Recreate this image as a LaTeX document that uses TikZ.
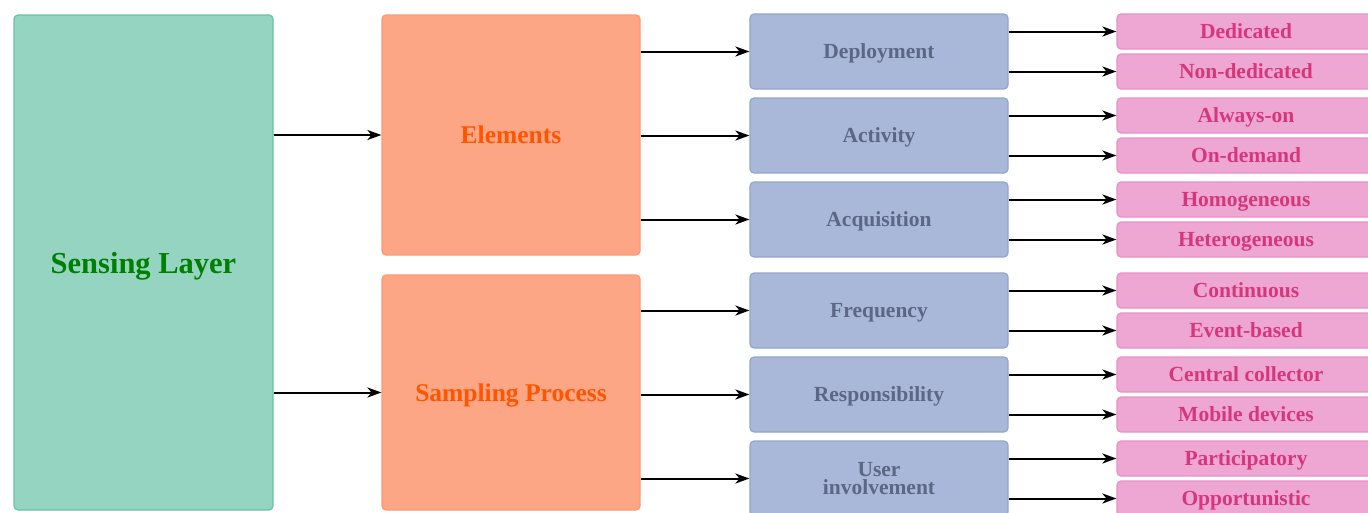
\documentclass[tikz,border=0pt]{standalone}
\usepackage{fontspec}
\setmainfont{Liberation Serif}
\usetikzlibrary{arrows.meta}
\definecolor{sgreen}{HTML}{66C2A5}
\definecolor{sorange}{HTML}{FC8D62}
\definecolor{sblue}{HTML}{8DA0CB}
\definecolor{spink}{HTML}{E78AC3}
\definecolor{tgreen}{HTML}{008000}
\definecolor{torange}{HTML}{FF5500}
\definecolor{tblue}{HTML}{5B6784}
\definecolor{tpink}{HTML}{D6377A}
\begin{document}
\begin{tikzpicture}[x = 1pt, y = -1pt,
		box/.style = {rectangle, rounded corners = 4pt, line width = 1.2pt, inner sep = 0pt, align = center, text depth = 0pt},
		layer/.style = {box, draw = sgreen, fill = sgreen!70, text = tgreen, minimum width = 259pt, minimum height = 495pt, font = \bfseries\fontsize{30.5}{32}\selectfont},
		group/.style = {box, draw = sorange!90, fill = sorange!78, text = torange, minimum width = 258pt, font = \bfseries\fontsize{25.5}{27}\selectfont},
		aspect/.style = {box, draw = sblue!95, fill = sblue!75, text = tblue, minimum width = 258pt, minimum height = 75pt, font = \bfseries\fontsize{21.5}{18}\selectfont},
		value/.style = {box, draw = spink!95, fill = spink!75, text = tpink, minimum width = 258pt, minimum height = 35pt, font = \bfseries\fontsize{21.5}{22}\selectfont},
		arr/.style = {-{Stealth[length = 14pt, width = 10pt, inset = 4pt]}, line width = 2pt}]
			\useasboundingbox (0, 0) rectangle (1368, 512);
			\clip (0, 0) rectangle (1368, 512);
			% layer
			\node[layer] (sense) at (143.5, 262.5) {Sensing Layer};
			% groups
			\node[group, minimum height = 240pt] (elem) at (511, 135)   {Elements};
			\node[group, minimum height = 235pt] (samp) at (511, 392.5) {Sampling Process};
			% aspects
			\node[aspect] (depl) at (879, 51.5)  {Deployment};
			\node[aspect] (acti) at (879, 135.5) {Activity};
			\node[aspect] (acqu) at (879, 219.5) {Acquisition};
			\node[aspect] (freq) at (879, 310.5) {Frequency};
			\node[aspect] (resp) at (879, 394.5) {Responsibility};
			\node[aspect] (user) at (879, 478.5) {User\\involvement};
			% values
			\node[value] (dedi) at (1246, 31.5)  {Dedicated};
			\node[value] (nond) at (1246, 71.5)  {Non-dedicated};
			\node[value] (alwa) at (1246, 115.5) {Always-on};
			\node[value] (onde) at (1246, 155.5) {On-demand};
			\node[value] (homo) at (1246, 199.5) {Homogeneous};
			\node[value] (hete) at (1246, 239.5) {Heterogeneous};
			\node[value] (cont) at (1246, 290.5) {Continuous};
			\node[value] (even) at (1246, 330.5) {Event-based};
			\node[value] (cent) at (1246, 374.5) {Central collector};
			\node[value] (mobi) at (1246, 414.5) {Mobile devices};
			\node[value] (part) at (1246, 458.5) {Participatory};
			\node[value] (oppo) at (1246, 498.5) {Opportunistic};
			% arrows
			\draw[arr] (sense.east |- elem) -- (elem);
			\draw[arr] (sense.east |- samp) -- (samp);
			\draw[arr] (elem.east |- depl) -- (depl);
			\draw[arr] (elem.east |- acti) -- (acti);
			\draw[arr] (elem.east |- acqu) -- (acqu);
			\draw[arr] (samp.east |- freq) -- (freq);
			\draw[arr] (samp.east |- resp) -- (resp);
			\draw[arr] (samp.east |- user) -- (user);
			\draw[arr] (depl.east |- dedi) -- (dedi);
			\draw[arr] (depl.east |- nond) -- (nond);
			\draw[arr] (acti.east |- alwa) -- (alwa);
			\draw[arr] (acti.east |- onde) -- (onde);
			\draw[arr] (acqu.east |- homo) -- (homo);
			\draw[arr] (acqu.east |- hete) -- (hete);
			\draw[arr] (freq.east |- cont) -- (cont);
			\draw[arr] (freq.east |- even) -- (even);
			\draw[arr] (resp.east |- cent) -- (cent);
			\draw[arr] (resp.east |- mobi) -- (mobi);
			\draw[arr] (user.east |- part) -- (part);
			\draw[arr] (user.east |- oppo) -- (oppo);
		\end{tikzpicture}
\end{document}
